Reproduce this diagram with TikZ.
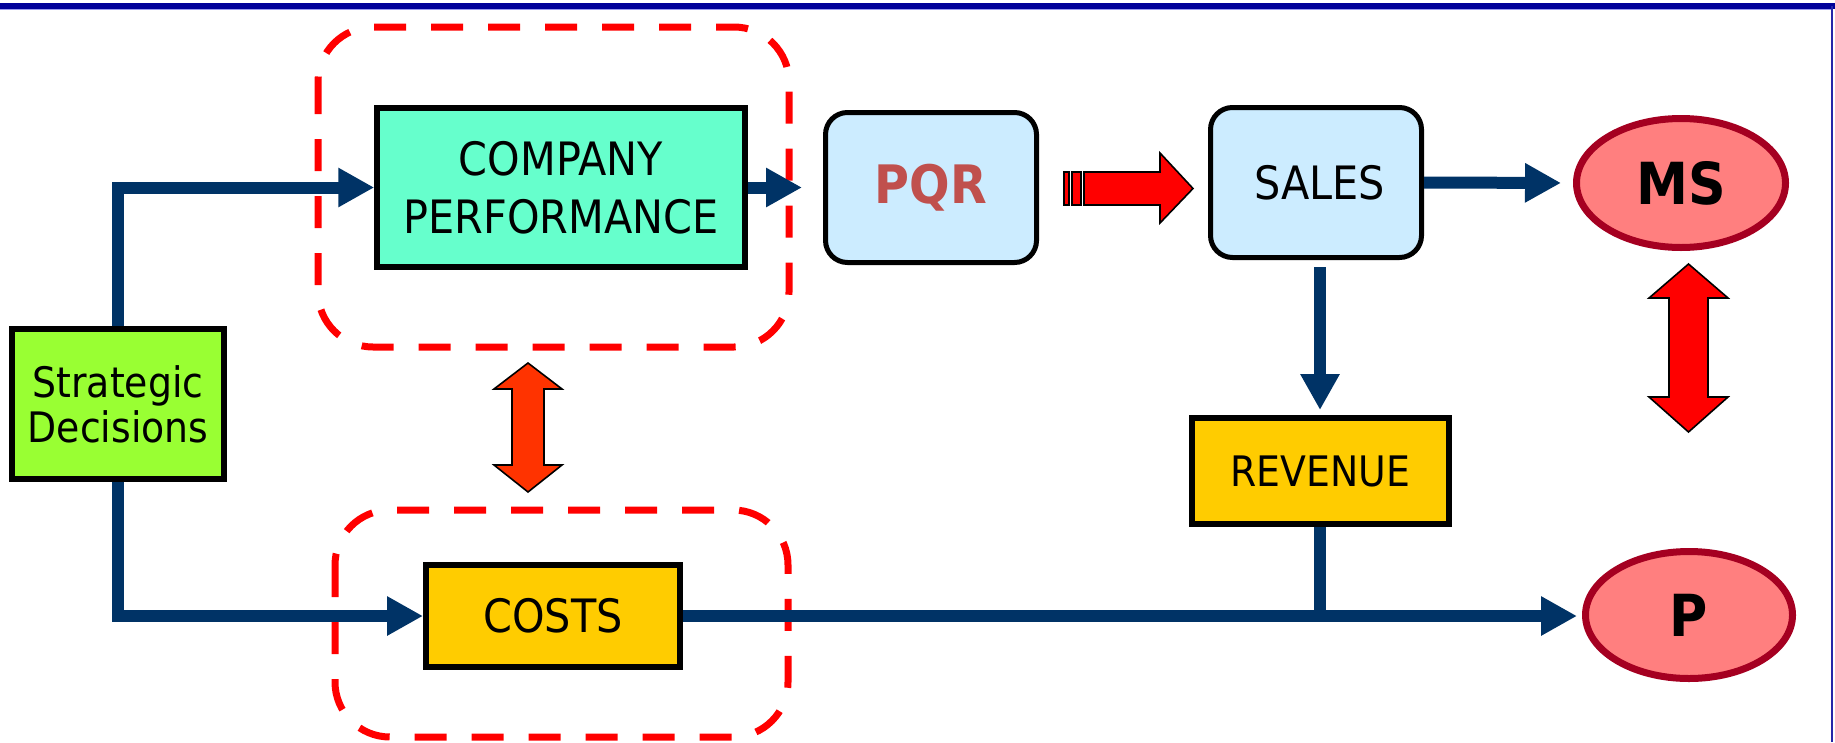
\documentclass[tikz,border=0pt]{standalone}
\usepackage{fontspec}
\setmainfont{DejaVu Sans}[FakeStretch=0.9]
\usetikzlibrary{arrows.meta,shapes.geometric}

\definecolor{navy}{HTML}{003366}
\definecolor{frameblue}{HTML}{000099}
\definecolor{framelight}{HTML}{9999EE}
\definecolor{limefill}{HTML}{99FF33}
\definecolor{mintfill}{HTML}{66FFCC}
\definecolor{skyfill}{HTML}{CCECFF}
\definecolor{goldfill}{HTML}{FFCC00}
\definecolor{rosefill}{HTML}{FF7F7F}
\definecolor{wine}{HTML}{A50021}
\definecolor{brickred}{HTML}{C0504D}
\definecolor{flame}{HTML}{FF3300}

\begin{document}
\begin{tikzpicture}[x=1pt,y=-1pt,
  box/.style={draw=black, line width=6pt, inner sep=0pt, align=center},
  softbox/.style={draw=black, line width=5pt, inner sep=0pt, align=center,
    rounded corners=22pt, fill=skyfill, minimum width=211pt, minimum height=150pt},
  oval/.style={ellipse, draw=wine, line width=7pt, fill=rosefill, inner sep=0pt,
    font=\fontsize{58}{60}\selectfont\bfseries},
  conn/.style={draw=navy, line width=12pt,
    -{Triangle[length=36pt,width=37pt]}},
  connline/.style={draw=navy, line width=12pt},
  group/.style={draw=red, line width=7pt, dash pattern=on 32pt off 25pt,
    rounded corners=55pt},
  bigarrow/.style={draw=black, line width=1.6pt, line join=miter},
]
\useasboundingbox (0,0) rectangle (1835,742);

% frame lines
\draw[frameblue, line width=6pt] (0,6) -- (1835,6);
\draw[framelight, line width=1.2pt] (0,9.6) -- (1832,9.6);
\draw[frameblue!85!white, line width=2.5pt] (1832,6) -- (1832,742);

% dashed groupings
\draw[group] (318,27) rectangle (789,347);
\draw[group] (335,510) rectangle (788,737);

% boxes
\node[box, fill=limefill, minimum width=212pt, minimum height=150pt,
  font=\fontsize{42}{45}\selectfont] (strat) at (118,404) {Strategic\\Decisions};
\node[box, fill=mintfill, line width=5.5pt, minimum width=368pt, minimum height=159pt,
  font=\fontsize{46}{58}\selectfont] (comp) at (561,187.5) {COMPANY\\PERFORMANCE};
\node[softbox, text=brickred, font=\fontsize{53}{56}\selectfont\bfseries]
  (pqr) at (931,187.5) {PQR};
\node[softbox, font=\fontsize{46}{50}\selectfont] (sales) at (1316,182.5) {\,SALES};
\node[box, fill=goldfill, minimum width=257pt, minimum height=106pt,
  font=\fontsize{42}{45}\selectfont] (rev) at (1320,471) {REVENUE};
\node[box, fill=goldfill, minimum width=254pt, minimum height=102pt,
  font=\fontsize{46}{50}\selectfont] (costs) at (553,616) {COSTS};
\node[oval, minimum width=209pt, minimum height=129pt] (ms) at (1681,183) {MS};
\node[oval, minimum width=207pt, minimum height=127pt] (p) at (1689,615) {P};

% connectors
\draw[conn] (strat.north) |- (comp.west);
\draw[conn] (strat.south) |- (costs.west);
\draw[conn, shorten >=21pt] (comp.east) -- (pqr.west);
\draw[conn, shorten >=12pt] (sales.east) -- (ms.west);
\draw[conn, shorten <=7pt, shorten >=5pt] (sales.south -| rev.north) -- (rev.north);
\draw[conn, shorten >=5pt] (costs.east) -- (costs.east -| p.west);
\draw[connline] (rev.south) -- (rev.south |- costs.east);

% striped block arrow from PQR to SALES
\filldraw[bigarrow, fill=red] (1064,172) rectangle (1069,205);
\filldraw[bigarrow, fill=red] (1072,172) rectangle (1081,205);
\filldraw[bigarrow, fill=red]
  (1084,172) -- (1160,172) -- (1160,153) -- (1193,188.5) -- (1160,223)
  -- (1160,205) -- (1084,205) -- cycle;

% two-way block arrows
\filldraw[bigarrow, fill=flame]
  (528,363) -- (562,389) -- (544,389) -- (544,465) -- (562,465) -- (528,492)
  -- (494,465) -- (512,465) -- (512,389) -- (494,389) -- cycle;
\filldraw[bigarrow, fill=red]
  (1688.5,264) -- (1728,298) -- (1708,298) -- (1708,397) -- (1728,397) -- (1688.5,432)
  -- (1649,397) -- (1669,397) -- (1669,298) -- (1649,298) -- cycle;
\end{tikzpicture}
\end{document}
